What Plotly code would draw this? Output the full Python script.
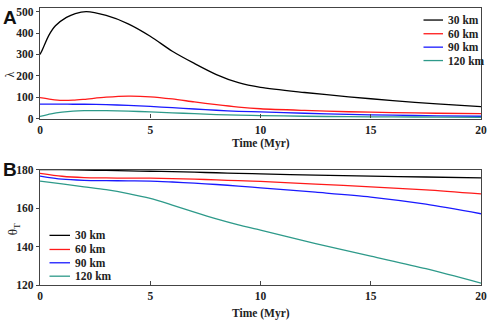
import plotly.graph_objects as go

# ---------------- data ----------------
series_names = ["30 km", "60 km", "90 km", "120 km"]
series_colors = ["#000000", "#ff1a1a", "#1a1aff", "#2e9a8a"]

# Panel A: lambda vs time
t_a_black = [0, 0.1, 0.4, 0.7, 1.2, 1.6, 2.1, 3, 4, 5, 6, 7, 8, 9, 10, 12, 14, 16, 18, 20]
lam_black = [300, 320, 389, 434, 473, 491, 500, 482, 443, 385, 315, 258, 206, 168, 146, 122, 102, 84, 69, 56]
t_a = [0, 0.5, 1, 1.5, 2, 3, 4, 5, 6, 7, 8, 9, 10, 12, 14, 16, 18, 20]
lam_red = [98, 90, 85, 86, 90, 100, 105, 102, 92, 78, 65, 54, 46, 38, 32, 28, 25, 23]
lam_blue = [68, 68, 67.5, 67, 67, 65, 62, 57, 51, 45, 39, 34, 31, 25, 20, 16, 13, 11]
lam_teal = [10, 22, 30, 35, 37, 37, 35, 31, 27, 23, 19, 16, 14, 11, 9, 8, 7, 6]

# Panel B: theta_T vs time
t_b = [0, 1, 2, 3, 4, 5, 6, 7, 8, 9, 10, 12.5, 15, 17.5, 20]
th_black = [180, 179.9, 179.7, 179.5, 179.3, 179.1, 178.9, 178.6, 178.3, 178.0, 177.7, 177.1, 176.6, 176.1, 175.6]
th_red = [178, 176.5, 175.8, 175.6, 175.5, 175.5, 175.3, 175.0, 174.6, 174.2, 173.8, 172.4, 171.0, 169.4, 167.3]
th_blue = [176.6, 175.0, 174.4, 174.2, 174.1, 174.0, 173.5, 172.9, 172.2, 171.4, 170.5, 168.2, 165.7, 162.0, 157.0]
th_teal = [174.0, 172.5, 171.0, 169.5, 167.5, 165.0, 161.5, 157.8, 154.3, 151.2, 148.5, 141.5, 135.0, 128.5, 121.0]

x_ticks = [0, 5, 10, 15, 20]
ya_ticks = [0, 100, 200, 300, 400, 500]
yb_ticks = [120, 140, 160, 180]

# ---------------- figure ----------------
W, H = 491, 322
ML, MR, MT, MB = 40, 10, 2, 37
ph = H - MT - MB

def py(pix):
    """pixel y (from top) -> paper fraction"""
    return (H - MB - pix) / ph

def px(pix):
    return (pix - ML) / (W - ML - MR)

fig = go.Figure()

a_x = [t_a_black, t_a, t_a, t_a]
a_y = [lam_black, lam_red, lam_blue, lam_teal]
b_y = [th_black, th_red, th_blue, th_teal]
for i in range(4):
    fig.add_trace(go.Scatter(x=a_x[i], y=a_y[i], mode="lines", name=series_names[i],
                             line=dict(color=series_colors[i], width=1.3, shape="spline", smoothing=0.8),
                             xaxis="x", yaxis="y", showlegend=False))
    fig.add_trace(go.Scatter(x=t_b, y=b_y[i], mode="lines", name=series_names[i],
                             line=dict(color=series_colors[i], width=1.3, shape="spline", smoothing=0.8),
                             xaxis="x2", yaxis="y2", showlegend=False))

SERIF = "Liberation Serif, Times New Roman, serif"
tickfont = dict(family=SERIF, size=11.5, color="#222", weight="bold")
axis_common = dict(showline=True, linecolor="#444", linewidth=1.3, mirror=True,
                   showgrid=False, zeroline=False, tickfont=tickfont,
                   tickcolor="#444", tickwidth=1.2)

fig.update_layout(
    width=W, height=H,
    margin=dict(l=ML, r=MR, t=MT, b=MB),
    paper_bgcolor="white", plot_bgcolor="white",
    xaxis=dict(domain=[0, 1], anchor="y", range=[0, 20], tickvals=x_ticks,
               ticks="inside", ticklen=4, **axis_common),
    yaxis=dict(domain=[py(115), 1], anchor="x", range=[0, 517], tickvals=ya_ticks,
               ticks="outside", ticklen=3, **axis_common),
    xaxis2=dict(domain=[0, 1], anchor="y2", range=[0, 20], tickvals=x_ticks,
                ticks="inside", ticklen=4, **axis_common),
    yaxis2=dict(domain=[0, py(167)], anchor="x2", range=[120, 180], tickvals=yb_ticks,
                ticks="outside", ticklen=3, **axis_common),
    showlegend=False,
)

serif_b = lambda s: f"<b>{s}</b>"
lab_font = dict(family=SERIF, size=11.5, color="#222")

annotations = [
    dict(text=serif_b("Time (Myr)"), x=px(261), y=py(140), xref="paper", yref="paper",
         showarrow=False, font=lab_font, xanchor="center", yanchor="middle"),
    dict(text=serif_b("Time (Myr)"), x=px(261), y=py(314), xref="paper", yref="paper",
         showarrow=False, font=lab_font, xanchor="center", yanchor="middle"),
    dict(text="λ", x=px(10), y=py(70), xref="paper", yref="paper", textangle=-90,
         showarrow=False, font=dict(family=SERIF, size=12, color="#222"),
         xanchor="center", yanchor="middle"),
    dict(text="θ<sub>T</sub>", x=px(13), y=py(228), xref="paper", yref="paper", textangle=-90,
         showarrow=False, font=dict(family=SERIF, size=13, color="#222"),
         xanchor="center", yanchor="middle"),
    dict(text="<b>A</b>", x=px(1), y=py(11.5), xref="paper", yref="paper",
         showarrow=False, font=dict(family="Liberation Sans, Arial, sans-serif", size=19, color="#111"),
         xanchor="left", yanchor="middle"),
    dict(text="<b>B</b>", x=px(1), y=py(167), xref="paper", yref="paper",
         showarrow=False, font=dict(family="Liberation Sans, Arial, sans-serif", size=19, color="#111"),
         xanchor="left", yanchor="middle"),
]

shapes = []
leg_a_y = [14.3, 28.3, 42, 55.7]
leg_b_y = [234.3, 248.7, 262.3, 276]
for i in range(4):
    for (x0, x1, tx, yy) in [(423.5, 443, 446, leg_a_y[i]), (49.5, 70, 73, leg_b_y[i])]:
        shapes.append(dict(type="line", xref="paper", yref="paper",
                           x0=px(x0), x1=px(x1), y0=py(yy), y1=py(yy),
                           line=dict(color=series_colors[i], width=1.3)))
        annotations.append(dict(text=serif_b(series_names[i]), x=px(tx), y=py(yy),
                                xref="paper", yref="paper", showarrow=False,
                                font=lab_font, xanchor="left", yanchor="middle"))

fig.update_layout(annotations=annotations, shapes=shapes)
fig.write_html("out.html", config={"displayModeBar": False},
               post_script="document.body.style.margin='0';document.body.style.padding='0';")
